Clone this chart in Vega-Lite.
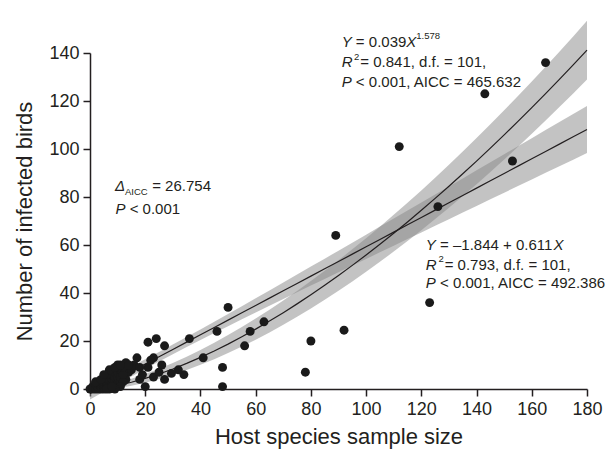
{
  "$schema": "https://vega.github.io/schema/vega-lite/v6.json",
  "autosize": {"type": "none"},
  "padding": {"left": 90, "top": 53, "right": 18, "bottom": 62},
  "width": 497,
  "height": 336,
  "background": "white",
  "config": {
    "view": {"stroke": null},
    "font": "Liberation Sans",
    "axis": {
      "domainColor": "#231f20", "domainWidth": 1.5, "tickColor": "#231f20", "tickWidth": 1.5,
      "labelColor": "#231f20", "titleColor": "#231f20", "labelFont": "Liberation Sans", "titleFont": "Liberation Sans",
      "labelFontSize": 18, "titleFontSize": 22, "titleFontWeight": "normal", "grid": false,
      "labelOverlap": false, "labelFlush": false
    }
  },
  "datasets": {
    "birds": [
      {"n": 165, "inf": 136}, {"n": 143, "inf": 123}, {"n": 112, "inf": 101}, {"n": 153, "inf": 95},
      {"n": 126, "inf": 76}, {"n": 89, "inf": 64}, {"n": 123, "inf": 36}, {"n": 92, "inf": 24.5},
      {"n": 80, "inf": 20}, {"n": 78, "inf": 7}, {"n": 50, "inf": 34}, {"n": 46, "inf": 24},
      {"n": 58, "inf": 24}, {"n": 63, "inf": 28}, {"n": 56, "inf": 18}, {"n": 41, "inf": 13},
      {"n": 48, "inf": 9}, {"n": 48, "inf": 1}, {"n": 36, "inf": 21}, {"n": 34, "inf": 6},
      {"n": 32, "inf": 8}, {"n": 29.5, "inf": 6.5}, {"n": 21, "inf": 19.5}, {"n": 24, "inf": 21},
      {"n": 27, "inf": 18}, {"n": 17, "inf": 13}, {"n": 23, "inf": 13}, {"n": 13, "inf": 11},
      {"n": 10, "inf": 10}, {"n": 21, "inf": 9}, {"n": 26, "inf": 10}, {"n": 14, "inf": 7},
      {"n": 18, "inf": 4}, {"n": 23, "inf": 5}, {"n": 27, "inf": 4}, {"n": 13, "inf": 4},
      {"n": 20, "inf": 1}, {"n": 0, "inf": 0}, {"n": 1, "inf": 0}, {"n": 1, "inf": 1},
      {"n": 2, "inf": 0}, {"n": 2, "inf": 1}, {"n": 2, "inf": 2}, {"n": 3, "inf": 0},
      {"n": 3, "inf": 1}, {"n": 3, "inf": 2}, {"n": 3, "inf": 3}, {"n": 4, "inf": 0},
      {"n": 4, "inf": 1}, {"n": 4, "inf": 2}, {"n": 4, "inf": 3}, {"n": 5, "inf": 0},
      {"n": 5, "inf": 1}, {"n": 5, "inf": 2}, {"n": 5, "inf": 3}, {"n": 5, "inf": 4},
      {"n": 6, "inf": 1}, {"n": 6, "inf": 2}, {"n": 6, "inf": 3}, {"n": 6, "inf": 5},
      {"n": 7, "inf": 1}, {"n": 7, "inf": 3}, {"n": 7, "inf": 4}, {"n": 7, "inf": 6},
      {"n": 8, "inf": 2}, {"n": 8, "inf": 4}, {"n": 8, "inf": 6}, {"n": 8, "inf": 8},
      {"n": 9, "inf": 3}, {"n": 9, "inf": 5}, {"n": 9, "inf": 7}, {"n": 10, "inf": 2},
      {"n": 10, "inf": 5}, {"n": 10, "inf": 7}, {"n": 11, "inf": 3}, {"n": 11, "inf": 5},
      {"n": 11, "inf": 8}, {"n": 12, "inf": 3}, {"n": 12, "inf": 6}, {"n": 12, "inf": 9},
      {"n": 15, "inf": 8}, {"n": 16, "inf": 10}, {"n": 18, "inf": 9}, {"n": 19, "inf": 6},
      {"n": 11, "inf": 1}, {"n": 9, "inf": 0}, {"n": 7, "inf": 0}, {"n": 22, "inf": 12},
      {"n": 25, "inf": 7}, {"n": 6, "inf": 0}, {"n": 8, "inf": 1}, {"n": 10, "inf": 9},
      {"n": 14, "inf": 10}, {"n": 2, "inf": 3}, {"n": 6, "inf": 6}, {"n": 7, "inf": 8},
      {"n": 9, "inf": 9}, {"n": 11, "inf": 10}, {"n": 4, "inf": 4}, {"n": 5, "inf": 6}
    ],
    "fits": [
      {"x": 0, "lin": -1.844, "lin_lo": -4.37, "lin_hi": 0.69, "pw": 0, "pw_lo": -0.5, "pw_hi": 0.5},
      {"x": 5, "lin": 1.211, "lin_lo": -1.14, "lin_hi": 3.56, "pw": 0.494, "pw_lo": -0.33, "pw_hi": 1.32},
      {"x": 10, "lin": 4.266, "lin_lo": 2.06, "lin_hi": 6.47, "pw": 1.476, "pw_lo": 0.33, "pw_hi": 2.63},
      {"x": 15, "lin": 7.321, "lin_lo": 5.23, "lin_hi": 9.42, "pw": 2.799, "pw_lo": 1.32, "pw_hi": 4.27},
      {"x": 20, "lin": 10.376, "lin_lo": 8.35, "lin_hi": 12.4, "pw": 4.407, "pw_lo": 2.61, "pw_hi": 6.21},
      {"x": 25, "lin": 13.431, "lin_lo": 11.43, "lin_hi": 15.43, "pw": 6.267, "pw_lo": 4.14, "pw_hi": 8.39},
      {"x": 30, "lin": 16.486, "lin_lo": 14.46, "lin_hi": 18.51, "pw": 8.357, "pw_lo": 5.91, "pw_hi": 10.81},
      {"x": 35, "lin": 19.541, "lin_lo": 17.45, "lin_hi": 21.64, "pw": 10.66, "pw_lo": 7.89, "pw_hi": 13.44},
      {"x": 40, "lin": 22.596, "lin_lo": 20.39, "lin_hi": 24.8, "pw": 13.16, "pw_lo": 10.06, "pw_hi": 16.26},
      {"x": 45, "lin": 25.651, "lin_lo": 23.3, "lin_hi": 28.0, "pw": 15.84, "pw_lo": 12.42, "pw_hi": 19.27},
      {"x": 50, "lin": 28.706, "lin_lo": 26.18, "lin_hi": 31.24, "pw": 18.7, "pw_lo": 14.95, "pw_hi": 22.45},
      {"x": 55, "lin": 31.761, "lin_lo": 29.03, "lin_hi": 34.49, "pw": 21.74, "pw_lo": 17.67, "pw_hi": 25.82},
      {"x": 60, "lin": 34.816, "lin_lo": 31.87, "lin_hi": 37.77, "pw": 24.94, "pw_lo": 20.54, "pw_hi": 29.34},
      {"x": 65, "lin": 37.871, "lin_lo": 34.69, "lin_hi": 41.06, "pw": 28.3, "pw_lo": 23.58, "pw_hi": 33.03},
      {"x": 70, "lin": 40.926, "lin_lo": 37.49, "lin_hi": 44.36, "pw": 31.81, "pw_lo": 26.76, "pw_hi": 36.86},
      {"x": 75, "lin": 43.981, "lin_lo": 40.29, "lin_hi": 47.67, "pw": 35.47, "pw_lo": 30.1, "pw_hi": 40.85},
      {"x": 80, "lin": 47.036, "lin_lo": 43.08, "lin_hi": 50.99, "pw": 39.27, "pw_lo": 33.57, "pw_hi": 44.97},
      {"x": 85, "lin": 50.091, "lin_lo": 45.87, "lin_hi": 54.32, "pw": 43.22, "pw_lo": 37.2, "pw_hi": 49.25},
      {"x": 90, "lin": 53.146, "lin_lo": 48.65, "lin_hi": 57.65, "pw": 47.29, "pw_lo": 40.94, "pw_hi": 53.64},
      {"x": 95, "lin": 56.201, "lin_lo": 51.42, "lin_hi": 60.98, "pw": 51.51, "pw_lo": 44.84, "pw_hi": 58.19},
      {"x": 100, "lin": 59.256, "lin_lo": 54.19, "lin_hi": 64.32, "pw": 55.84, "pw_lo": 48.84, "pw_hi": 62.84},
      {"x": 105, "lin": 62.311, "lin_lo": 56.96, "lin_hi": 67.66, "pw": 60.31, "pw_lo": 52.99, "pw_hi": 67.64},
      {"x": 110, "lin": 65.366, "lin_lo": 59.73, "lin_hi": 71.0, "pw": 64.91, "pw_lo": 57.26, "pw_hi": 72.56},
      {"x": 115, "lin": 68.421, "lin_lo": 62.49, "lin_hi": 74.35, "pw": 69.62, "pw_lo": 61.65, "pw_hi": 77.6},
      {"x": 120, "lin": 71.476, "lin_lo": 65.26, "lin_hi": 77.7, "pw": 74.46, "pw_lo": 66.16, "pw_hi": 82.76},
      {"x": 125, "lin": 74.531, "lin_lo": 68.02, "lin_hi": 81.05, "pw": 79.41, "pw_lo": 70.79, "pw_hi": 88.04},
      {"x": 130, "lin": 77.586, "lin_lo": 70.78, "lin_hi": 84.4, "pw": 84.47, "pw_lo": 75.52, "pw_hi": 93.42},
      {"x": 135, "lin": 80.641, "lin_lo": 73.53, "lin_hi": 87.75, "pw": 89.67, "pw_lo": 80.4, "pw_hi": 98.95},
      {"x": 140, "lin": 83.696, "lin_lo": 76.29, "lin_hi": 91.1, "pw": 94.95, "pw_lo": 85.35, "pw_hi": 104.55},
      {"x": 145, "lin": 86.751, "lin_lo": 79.05, "lin_hi": 94.46, "pw": 100.36, "pw_lo": 90.44, "pw_hi": 110.29},
      {"x": 150, "lin": 89.806, "lin_lo": 81.8, "lin_hi": 97.81, "pw": 105.87, "pw_lo": 95.62, "pw_hi": 116.12},
      {"x": 155, "lin": 92.861, "lin_lo": 84.56, "lin_hi": 101.17, "pw": 111.5, "pw_lo": 100.93, "pw_hi": 122.08},
      {"x": 160, "lin": 95.916, "lin_lo": 87.31, "lin_hi": 104.52, "pw": 117.24, "pw_lo": 106.34, "pw_hi": 128.14},
      {"x": 165, "lin": 98.971, "lin_lo": 90.06, "lin_hi": 107.88, "pw": 123.06, "pw_lo": 111.84, "pw_hi": 134.29},
      {"x": 170, "lin": 102.026, "lin_lo": 92.82, "lin_hi": 111.24, "pw": 129.0, "pw_lo": 117.45, "pw_hi": 140.55},
      {"x": 175, "lin": 105.081, "lin_lo": 95.57, "lin_hi": 114.59, "pw": 135.04, "pw_lo": 123.17, "pw_hi": 146.92},
      {"x": 180, "lin": 108.136, "lin_lo": 98.32, "lin_hi": 117.95, "pw": 141.2, "pw_lo": 129.0, "pw_hi": 153.4}
    ],
    "notes_regular": [
      {"x": 96.29, "y": 142.63, "text": "= 0.039"},
      {"x": 97.88, "y": 134.29, "text": "= 0.841, d.f. = 101,"},
      {"x": 96.29, "y": 125.96, "text": "< 0.001, AICC = 465.632"},
      {"x": 126.77, "y": 57.71, "text": "= –1.844 + 0.611"},
      {"x": 128.44, "y": 49.79, "text": "= 0.793, d.f. = 101,"},
      {"x": 126.77, "y": 41.88, "text": "< 0.001, AICC = 492.386"},
      {"x": 22.52, "y": 82.5, "text": "= 26.754"},
      {"x": 14.37, "y": 72.92, "text": "< 0.001"}
    ],
    "notes_italic": [
      {"x": 91.16, "y": 142.63, "text": "Y"},
      {"x": 114.55, "y": 142.63, "text": "X"},
      {"x": 91.16, "y": 134.29, "text": "R"},
      {"x": 91.16, "y": 125.96, "text": "P"},
      {"x": 121.64, "y": 57.71, "text": "Y"},
      {"x": 167.85, "y": 57.71, "text": "X"},
      {"x": 121.64, "y": 49.79, "text": "R"},
      {"x": 121.64, "y": 41.88, "text": "P"},
      {"x": 9.05, "y": 82.5, "text": "Δ"},
      {"x": 9.24, "y": 72.92, "text": "P"}
    ],
    "notes_small": [
      {"x": 118.18, "y": 145.63, "text": "1.578"},
      {"x": 95.65, "y": 137.29, "text": "2"},
      {"x": 126.2, "y": 52.71, "text": "2"},
      {"x": 12.68, "y": 80.83, "text": "AICC"}
    ]
  },
  "encoding": {
    "x": {"type": "quantitative", "scale": {"domain": [0, 180], "nice": false, "zero": false}},
    "y": {"type": "quantitative", "scale": {"domain": [0, 140], "nice": false, "zero": false}}
  },
  "layer": [
    {
      "data": {"name": "fits"},
      "mark": {"type": "area", "color": "#888888", "opacity": 0.5, "clip": false},
      "encoding": {
        "x": {"field": "x", "type": "quantitative", "title": "Host species sample size",
          "axis": {
            "values": [0,5,10,15,20,25,30,35,40,45,50,55,60,65,70,75,80,85,90,95,100,105,110,115,120,125,130,135,140,145,150,155,160,165,170,175,180],
            "labelExpr": "datum.value % 20 === 0 ? datum.label : ''",
            "tickSize": {"condition": {"test": "datum.value % 20 === 0", "value": 7}, "value": 4},
            "labelPadding": 4, "titlePadding": 8
          }},
        "y": {"field": "lin_lo", "type": "quantitative", "title": "Number of infected birds",
          "axis": {
            "values": [0,5,10,15,20,25,30,35,40,45,50,55,60,65,70,75,80,85,90,95,100,105,110,115,120,125,130,135,140],
            "labelExpr": "datum.value % 20 === 0 ? datum.label : ''",
            "tickSize": {"condition": {"test": "datum.value % 20 === 0", "value": 7}, "value": 4},
            "labelPadding": 4, "titlePadding": 12
          }},
        "y2": {"field": "lin_hi"}
      }
    },
    {
      "data": {"name": "fits"},
      "mark": {"type": "area", "color": "#888888", "opacity": 0.5, "clip": false},
      "encoding": {
        "x": {"field": "x", "type": "quantitative"},
        "y": {"field": "pw_lo", "type": "quantitative"},
        "y2": {"field": "pw_hi"}
      }
    },
    {
      "data": {"name": "fits"},
      "mark": {"type": "line", "color": "#231f20", "strokeWidth": 1.2, "clip": false},
      "encoding": {
        "x": {"field": "x", "type": "quantitative"},
        "y": {"field": "lin", "type": "quantitative"}
      }
    },
    {
      "data": {"name": "fits"},
      "mark": {"type": "line", "color": "#231f20", "strokeWidth": 1.2, "clip": false},
      "encoding": {
        "x": {"field": "x", "type": "quantitative"},
        "y": {"field": "pw", "type": "quantitative"}
      }
    },
    {
      "data": {"name": "birds"},
      "mark": {"type": "point", "filled": true, "color": "#1a1a1a", "opacity": 1, "size": 80},
      "encoding": {
        "x": {"field": "n", "type": "quantitative"},
        "y": {"field": "inf", "type": "quantitative"}
      }
    },
    {
      "data": {"name": "notes_regular"},
      "mark": {"type": "text", "align": "left", "baseline": "alphabetic", "fontSize": 15, "font": "Liberation Sans", "color": "#231f20"},
      "encoding": {
        "x": {"field": "x", "type": "quantitative"},
        "y": {"field": "y", "type": "quantitative"},
        "text": {"field": "text"}
      }
    },
    {
      "data": {"name": "notes_italic"},
      "mark": {"type": "text", "align": "left", "baseline": "alphabetic", "fontSize": 15, "fontStyle": "italic", "font": "Liberation Sans", "color": "#231f20"},
      "encoding": {
        "x": {"field": "x", "type": "quantitative"},
        "y": {"field": "y", "type": "quantitative"},
        "text": {"field": "text"}
      }
    },
    {
      "data": {"name": "notes_small"},
      "mark": {"type": "text", "align": "left", "baseline": "alphabetic", "fontSize": 9.5, "font": "Liberation Sans", "color": "#231f20"},
      "encoding": {
        "x": {"field": "x", "type": "quantitative"},
        "y": {"field": "y", "type": "quantitative"},
        "text": {"field": "text"}
      }
    }
  ]
}
